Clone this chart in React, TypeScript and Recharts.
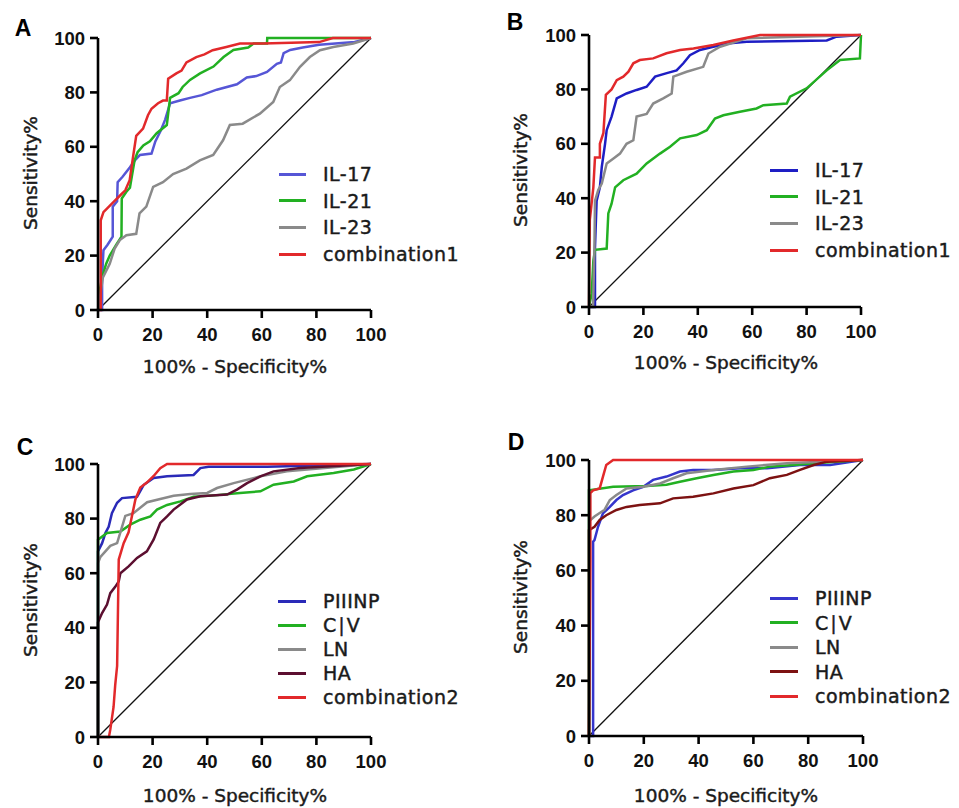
import React from 'react';
import { LineChart, Line, XAxis, YAxis } from 'recharts';

// ---------- tick labels ----------
const TICKS = [0, 20, 40, 60, 80, 100];
const X_TITLE = '100% - Specificity%';
const Y_TITLE = 'Sensitivity%';
const DIAGONAL: number[][] = [[0, 0], [100, 100]];

// ---------- Panel A ----------
const A_NAMES = ['IL-17', 'IL-21', 'IL-23', 'combination1'];
const A_IL17: number[][] = [[0,0],[1.5,0],[1.5,12],[2,22],[3.5,24],[5.4,27],[5.4,38],[7,40],[7.2,47],[9,49],[11.7,52.5],[13.5,55],[15.4,57],[19.6,57.5],[21,62],[23,66],[24.6,70],[26.4,76],[30,77],[33.7,78],[38,79],[43.5,81],[50.9,83],[54.5,85.5],[58,86],[61.9,87.5],[65.5,90.5],[67,91],[68,94.4],[70.4,95.6],[75,96.5],[81,97.5],[94,98.5],[100,100]];
const A_IL21: number[][] = [[0,0],[0.8,8],[1.5,12],[3,17],[4.3,20],[6.7,24],[8.6,27],[8.7,41],[10.4,43.5],[11.7,45],[12.2,48],[13.4,55],[14.5,58],[16.6,60.5],[19,62],[21.5,65],[25.2,68],[26.4,78],[29.5,79.7],[31,82],[33.7,84.6],[37.4,87],[42.3,89.5],[46,93],[49.6,95.6],[55,96.5],[57,98],[61.9,98],[62,100],[100,100]];
const A_IL23: number[][] = [[0,0],[1.8,12],[4.3,17],[6.1,22.6],[8,25.7],[10.4,27.5],[14,28],[15.2,35.5],[17.7,38],[20.2,45.3],[23.8,47],[27.5,50],[32.4,52],[37.3,55],[42.2,57],[45.8,62.4],[48.3,68],[53,68.5],[59.3,72.2],[64.2,76.5],[66.6,82],[70.3,84.5],[74,89.4],[77.6,93],[81.3,95.5],[86.2,96.7],[93.5,98],[100,100]];
const A_COMB1: number[][] = [[0,0],[1,0],[1,33],[2,36],[4,38],[6,40],[8,42],[10,44],[11.6,47.7],[12.8,56],[14,64],[16.5,66.7],[18.3,71.6],[19.6,74],[22,76],[23.8,77],[25.2,77],[25.7,85],[28.7,87],[30.6,88],[32.4,91],[36,93],[39,94],[42,95.5],[47,96.7],[52,98],[60.5,98],[81,98.5],[86,100],[100,100]];

// ---------- Panel B ----------
const B_NAMES = ['IL-17', 'IL-21', 'IL-23', 'combination1'];
const B_IL17: number[][] = [[0,0],[2.2,0],[2.2,7],[2.2,22],[2.8,39],[4,44],[4.7,51.5],[5.9,60],[6.5,65],[8.3,70],[10.2,76.7],[13.8,78.5],[17.5,79.8],[21.2,81],[24.3,84.7],[28.6,86],[32.2,87],[34.7,89.6],[37.1,92.6],[40.8,94.5],[45.7,95.7],[51.8,97],[58,97.5],[87.4,98],[91,99.4],[100,100]];
const B_IL21: number[][] = [[0,0],[1,5],[1.6,17],[2.2,21],[6.5,21.5],[7.1,34.4],[8.3,38],[9.6,44],[12.6,46.6],[17.5,49],[21.2,52.8],[26.1,56.4],[29.8,58.9],[33.5,62],[39.6,63.2],[43.3,65],[46.3,69.3],[49.4,70.5],[55.5,71.8],[61.6,73],[64.1,74.2],[72.7,74.8],[73.9,77.3],[80,80.4],[87.4,87],[92.3,90.8],[99.6,91.4],[100,100]];
const B_IL23: number[][] = [[0,0],[1.5,0],[2,22],[2.2,39],[3.4,43],[4.7,45.4],[6.5,52.8],[9,54.6],[11.4,56.4],[13.8,60],[16.3,61.3],[17.5,70],[21.2,71],[23.6,74.8],[27.3,76.7],[30.4,78.5],[31,84.7],[35.9,86.5],[42,88.3],[43.9,93.2],[48.2,95.7],[58,98.8],[100,100]];
const B_COMB1: number[][] = [[0,0],[0.3,32],[1.6,44],[2.2,55],[4,55],[4,60],[5.3,64],[6.2,78],[8.3,80],[10.2,83.4],[12.6,84.7],[14.5,86.5],[16.3,89.6],[18.7,90.8],[23.6,91.4],[28.5,93.3],[33.5,94.5],[38.4,95],[45.7,96.3],[53,98],[62.9,100],[100,100]];

// ---------- Panel C ----------
const C_NAMES = ['PIIINP', 'C\u2223V', 'LN', 'HA', 'combination2'];
const C_PIIINP: number[][] = [[0,0],[0,68],[1.5,71],[2.7,74.7],[3.9,77],[5.1,82],[7,85.8],[8.8,87.5],[14.3,88],[16.8,92.4],[20.4,94.9],[25.3,95.5],[35,96],[37.5,98.5],[40.5,99],[62,99],[100,100]];
const C_CIV: number[][] = [[0,0],[0,72.3],[3.3,74.7],[8.2,75.3],[11.8,77.8],[15.5,79.6],[19.2,80.8],[21.6,83.3],[25.3,85],[30.2,86.3],[35,88],[43.6,88.6],[52,89.4],[59.5,90],[64.3,92.4],[71.7,93.6],[76.6,95.5],[86.3,96.7],[93.7,98],[100,100]];
const C_LN: number[][] = [[0,0],[0,63.7],[0.9,66],[2.7,68],[4.5,70],[7,71],[8.8,77],[10,81],[13,82],[18,86],[22.8,87.2],[27.7,88.4],[33.8,89],[40,89.4],[43.6,91.2],[49.7,93],[59.5,95.5],[69.2,97.3],[100,100]];
const C_HA: number[][] = [[0,0],[0,42],[1.5,45.4],[3.3,48.5],[4.5,52.7],[6.3,55],[7.6,57],[8.2,60],[11.2,62.5],[14.3,65.6],[17.9,68],[20.4,72.4],[22.8,78.4],[25.3,80.8],[27.7,83.3],[32.6,87],[37.5,88.2],[47.3,88.8],[50.9,90.6],[54.6,93],[59.5,95.5],[64.3,97.3],[74,98.5],[100,100]];
const C_COMB2: number[][] = [[0,0],[4,0],[4.5,2.7],[5.7,11],[6.3,19],[7,26],[7.6,65],[9.4,71],[11.2,75],[13.7,87],[15.5,91.4],[17.9,93.2],[20.4,95.6],[22.8,98.5],[25.3,100],[100,100]];

// ---------- Panel D ----------
const D_NAMES = ['PIIINP', 'C\u2223V', 'LN', 'HA', 'combination2'];
const D_PIIINP: number[][] = [[0,0],[1.5,0],[1.5,70.4],[2,71],[3.3,75.8],[5.1,80.7],[7.6,83],[10,85.5],[12.4,87.3],[16.1,89],[19.8,90.3],[23.4,92.8],[28.3,94],[33.2,95.8],[38,96.4],[45.4,96.4],[55.1,97],[65,97],[77,98.2],[88,98.2],[100,100]];
const D_CIV: number[][] = [[0,0],[0,89],[8.8,90.3],[21,90.6],[28.3,91],[33.2,92.1],[39.3,93.4],[45.4,94.6],[52.7,95.8],[60,96.4],[66,97.6],[74.6,98.2],[82,98.8],[100,100]];
const D_LN: number[][] = [[0,0],[0.2,78],[2,79.5],[5.7,82],[7.6,85.5],[10,87.3],[13.7,89.7],[19.8,90.3],[25.9,91.5],[30.7,93.4],[35.6,95.2],[45.4,96.4],[57.6,97.6],[72.2,98.8],[100,100]];
const D_HA: number[][] = [[0,0],[0,74.6],[2,75.8],[3.9,78.3],[6.3,80],[10,81.9],[13.7,83],[18.5,83.7],[25.9,84.3],[30.7,86.1],[38,86.7],[45.4,87.9],[52.7,89.7],[60,90.9],[66,93.4],[72.2,94.6],[77,96.4],[82,98.2],[86.8,99.4],[100,100]];
const D_COMB2: number[][] = [[0,0],[0.5,64],[0.5,88],[1.5,89],[3.9,89.7],[5.1,94],[6.3,98.2],[8.8,100],[100,100]];

const toPts = (arr: number[][]) => arr.map(([x, y]) => ({ x, y }));

type Series = { name: string; data: number[][]; color: string };
type PanelProps = {
  letter: string;
  box: { l: number; t: number; w: number; h: number };
  plot: { x0: number; x1: number; y0: number; y1: number };
  series: Series[];
  legend: { lx0: number; lx1: number; tx: number; y0: number; dy: number };
  xTitle: { cx: number; cy: number };
  yTitle: { cx: number; cy: number };
  letterPos: { x: number; y: number };
};

const Y_W = 60;
const X_H = 40;
const LEGEND_FONT = '"DejaVu Sans", sans-serif';
const TICK_FONT = '"Liberation Sans", Arial, sans-serif';

const Panel = ({ letter, box, plot, series, legend, xTitle, yTitle, letterPos }: PanelProps) => {
  const margin = {
    top: plot.y0 - box.t,
    left: plot.x0 - box.l - Y_W,
    right: box.l + box.w - plot.x1,
    bottom: box.t + box.h - plot.y1 - X_H,
  };
  const tickStyle = { fontFamily: TICK_FONT, fontWeight: 700, fontSize: 18.5, fill: '#111' };
  const axisStroke = { stroke: '#000', strokeWidth: 2.6 };
  const textCommon = {
    fontFamily: LEGEND_FONT,
    color: '#1a1a1a',
    whiteSpace: 'nowrap' as const,
    WebkitTextStroke: '0.45px #1a1a1a',
  };
  return (
    <>
      <div style={{ position: 'absolute', left: box.l, top: box.t }}>
        <LineChart width={box.w} height={box.h} margin={margin}>
          <XAxis
            type="number"
            dataKey="x"
            domain={[0, 100]}
            ticks={TICKS}
            interval={0}
            height={X_H}
            tick={tickStyle}
            tickSize={8}
            tickMargin={10}
            axisLine={axisStroke}
            tickLine={axisStroke}
          />
          <YAxis
            type="number"
            dataKey="y"
            domain={[0, 100]}
            ticks={TICKS}
            interval={0}
            width={Y_W}
            tick={tickStyle}
            tickSize={8}
            tickMargin={5}
            axisLine={axisStroke}
            tickLine={axisStroke}
          />
          <Line
            data={toPts(DIAGONAL)}
            dataKey="y"
            type="linear"
            stroke="#111"
            strokeWidth={1.3}
            dot={false}
            activeDot={false}
            isAnimationActive={false}
          />
          {series.map((s) => (
            <Line
              key={s.name}
              name={s.name}
              data={toPts(s.data)}
              dataKey="y"
              type="linear"
              stroke={s.color}
              strokeWidth={2.5}
              dot={false}
              activeDot={false}
              isAnimationActive={false}
            />
          ))}
        </LineChart>
      </div>
      <div
        style={{
          position: 'absolute',
          left: letterPos.x,
          top: letterPos.y,
          transform: 'translate(-50%, -50%)',
          fontFamily: TICK_FONT,
          fontWeight: 700,
          fontSize: 23,
          color: '#000',
        }}
      >
        {letter}
      </div>
      <div
        style={{
          ...textCommon,
          position: 'absolute',
          left: xTitle.cx,
          top: xTitle.cy,
          transform: 'translate(-50%, -50%)',
          fontSize: 18.5,
        }}
      >
        {X_TITLE}
      </div>
      <div
        style={{
          ...textCommon,
          position: 'absolute',
          left: yTitle.cx,
          top: yTitle.cy,
          transform: 'translate(-50%, -50%) rotate(-90deg)',
          fontSize: 18.5,
        }}
      >
        {Y_TITLE}
      </div>
      {series.map((s, i) => {
        const cy = legend.y0 + i * legend.dy;
        return (
          <React.Fragment key={'lg' + s.name}>
            <div
              style={{
                position: 'absolute',
                left: legend.lx0,
                top: cy - 1.5,
                width: legend.lx1 - legend.lx0,
                height: 3,
                background: s.color,
              }}
            />
            <div
              style={{
                ...textCommon,
                position: 'absolute',
                left: legend.tx,
                top: cy,
                transform: 'translateY(-50%)',
                fontSize: 19,
                letterSpacing: 0.5,
                lineHeight: 1,
              }}
            >
              {s.name}
            </div>
          </React.Fragment>
        );
      })}
    </>
  );
};

export default function App() {
  const GREEN = '#22b022';
  const GRAY = '#8a8a8a';
  const RED = '#e2292b';
  return (
    <div style={{ position: 'absolute', left: 0, top: 0, width: 959, height: 808, background: '#fff', overflow: 'hidden' }}>
      <Panel
        letter="A"
        box={{ l: 0, t: 0, w: 480, h: 400 }}
        plot={{ x0: 98, x1: 371, y0: 38, y1: 310 }}
        series={[
          { name: A_NAMES[0], data: A_IL17, color: '#5656d6' },
          { name: A_NAMES[1], data: A_IL21, color: GREEN },
          { name: A_NAMES[2], data: A_IL23, color: GRAY },
          { name: A_NAMES[3], data: A_COMB1, color: RED },
        ]}
        legend={{ lx0: 279, lx1: 306, tx: 323, y0: 174, dy: 26.7 }}
        xTitle={{ cx: 235, cy: 366 }}
        yTitle={{ cx: 30, cy: 173 }}
        letterPos={{ x: 23, y: 28 }}
      />
      <Panel
        letter="B"
        box={{ l: 480, t: 0, w: 479, h: 400 }}
        plot={{ x0: 589, x1: 861, y0: 35, y1: 307 }}
        series={[
          { name: B_NAMES[0], data: B_IL17, color: '#1e1ec4' },
          { name: B_NAMES[1], data: B_IL21, color: GREEN },
          { name: B_NAMES[2], data: B_IL23, color: GRAY },
          { name: B_NAMES[3], data: B_COMB1, color: RED },
        ]}
        legend={{ lx0: 770, lx1: 798, tx: 815, y0: 170, dy: 26.7 }}
        xTitle={{ cx: 726, cy: 362 }}
        yTitle={{ cx: 520, cy: 170 }}
        letterPos={{ x: 515, y: 22 }}
      />
      <Panel
        letter="C"
        box={{ l: 0, t: 404, w: 480, h: 404 }}
        plot={{ x0: 98, x1: 371, y0: 464, y1: 737 }}
        series={[
          { name: C_NAMES[0], data: C_PIIINP, color: '#2a2ab8' },
          { name: C_NAMES[1], data: C_CIV, color: GREEN },
          { name: C_NAMES[2], data: C_LN, color: GRAY },
          { name: C_NAMES[3], data: C_HA, color: '#5c0f30' },
          { name: C_NAMES[4], data: C_COMB2, color: RED },
        ]}
        legend={{ lx0: 278, lx1: 306, tx: 323, y0: 601, dy: 24 }}
        xTitle={{ cx: 235, cy: 795 }}
        yTitle={{ cx: 30, cy: 600 }}
        letterPos={{ x: 25, y: 447 }}
      />
      <Panel
        letter="D"
        box={{ l: 480, t: 404, w: 479, h: 404 }}
        plot={{ x0: 589, x1: 863, y0: 460, y1: 736 }}
        series={[
          { name: D_NAMES[0], data: D_PIIINP, color: '#3535cc' },
          { name: D_NAMES[1], data: D_CIV, color: GREEN },
          { name: D_NAMES[2], data: D_LN, color: GRAY },
          { name: D_NAMES[3], data: D_HA, color: '#7d1212' },
          { name: D_NAMES[4], data: D_COMB2, color: RED },
        ]}
        legend={{ lx0: 770, lx1: 798, tx: 815, y0: 598, dy: 24.5 }}
        xTitle={{ cx: 726, cy: 795 }}
        yTitle={{ cx: 520, cy: 597 }}
        letterPos={{ x: 516, y: 442 }}
      />
    </div>
  );
}
